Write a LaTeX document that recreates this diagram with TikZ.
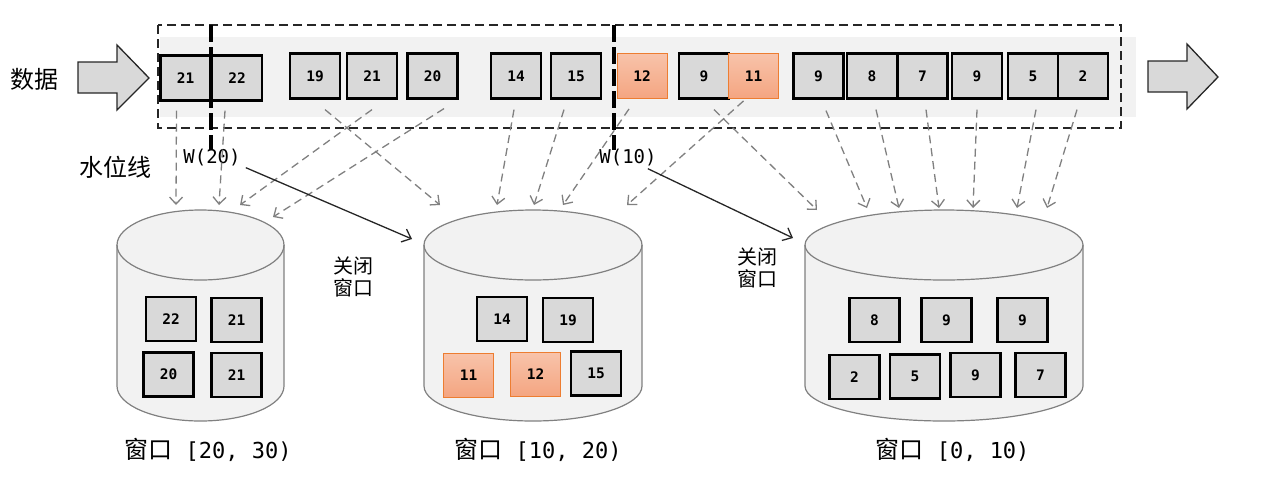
\documentclass[tikz,border=0pt]{standalone}
\usepackage{fontspec}
\usetikzlibrary{arrows.meta,calc}
\newfontfamily\monof{DejaVu Sans Mono}
\newfontfamily\cjkf{Noto Sans CJK SC}
\definecolor{boxgray}{HTML}{D9D9D9}
\definecolor{bandgray}{HTML}{F2F2F2}
\definecolor{cylfill}{HTML}{F2F2F2}
\definecolor{cyldraw}{HTML}{808080}
\definecolor{otop}{HTML}{F8C3AA}
\definecolor{obot}{HTML}{F4A581}
\definecolor{oedge}{HTML}{ED7D31}
\definecolor{agray}{HTML}{808080}
\definecolor{dark}{HTML}{262626}
\tikzset{
  numbox/.style={draw=black, line width=2.2pt, fill=boxgray, minimum width=50pt, minimum height=45pt, inner sep=0pt, font=\fontsize{14.5}{16}\selectfont\monof\bfseries},
  obox/.style={numbox, draw=oedge, line width=0.9pt, top color=otop, bottom color=obot},
  darr/.style={draw=agray, line width=1.3pt, dash pattern=on 8pt off 5pt, -{Straight Barb[length=7pt,width=13pt]}},
  sarr/.style={draw=dark, line width=1.3pt, -{Straight Barb[length=8pt,width=14pt]}},
  cyl/.style={fill=cylfill, draw=cyldraw, line width=1.2pt},
  blockarr/.style={fill=boxgray, draw=dark, line width=1.3pt},
  cjklab/.style={font=\fontsize{24}{26}\selectfont\cjkf, inner sep=0pt},
  closelab/.style={font=\fontsize{20}{22}\selectfont\cjkf, inner sep=0pt, align=left},
  wlab/.style={font=\fontsize{19}{21}\selectfont\monof, inner sep=0pt},
  winlab/.style={font=\fontsize{22}{24}\selectfont, inner sep=0pt},
}
\newcommand{\winlabel}[1]{{\fontsize{24}{26}\selectfont\cjkf 窗口}{\monof\ #1}}
\begin{document}
\begin{tikzpicture}[x=1pt,y=-1pt]
\useasboundingbox (0,0) rectangle (1268,483);
% band
\fill[bandgray] (160,37) rectangle (1136,117);
% block arrows
\draw[blockarr] (78,62) -- (117,62) -- (117,45) -- (149,78) -- (117,110) -- (117,93) -- (78,93) -- cycle;
\draw[blockarr] (1148,61) -- (1187,61) -- (1187,44) -- (1218,77) -- (1187,109) -- (1187,92) -- (1148,92) -- cycle;
% labels left
\node[cjklab] (data) at (34,79) {数据};
\node[cjklab] (wm) at (115,167) {水位线};
% top boxes
\node[numbox] (b21a) at (185.5,78) {21};
\node[numbox] (b22) at (237,78) {22};
\node[numbox] (b19) at (315,76) {19};
\node[numbox] (b21b) at (372,76) {21};
\node[numbox] (b20) at (432.5,76) {20};
\node[numbox] (b14) at (516,76) {14};
\node[numbox] (b15) at (576,76) {15};
\node[obox] (b12) at (642,76) {12};
\node[numbox] (b9a) at (704,76) {9};
\node[obox] (b11) at (753.5,76) {11};
\node[numbox] (b9b) at (818.5,76) {9};
\node[numbox] (b8) at (872,76) {8};
\node[numbox] (b7) at (922.5,76) {7};
\node[numbox] (b9c) at (977,76) {9};
\node[numbox] (b5) at (1033,76) {5};
\node[numbox] (b2) at (1083,76) {2};
% dashed frame and watermark lines
\draw[dark, line width=2pt, dash pattern=on 9pt off 5pt] (158,25) rectangle (1121,128);
\draw[black, line width=3.8pt, dash pattern=on 17pt off 5pt] (211,25) -- (211,150);
\draw[black, line width=3.2pt, dash pattern=on 17pt off 5pt] (614,25) -- (614,150);
\node[wlab] (w20) at (212,158) {W(20)};
\node[wlab] (w10) at (628,158) {W(10)};
% cylinders
\draw[cyl] (117,245) -- (117,386) arc[start angle=180,end angle=360,x radius=83.5pt,y radius=35pt] -- (284,245) arc[start angle=0,end angle=180,x radius=83.5pt,y radius=35pt] -- cycle;
\draw[cyl, fill=none] (117,245) arc[start angle=180,end angle=360,x radius=83.5pt,y radius=35pt];
\draw[cyl] (424,245) -- (424,386) arc[start angle=180,end angle=360,x radius=109pt,y radius=35pt] -- (642,245) arc[start angle=0,end angle=180,x radius=109pt,y radius=35pt] -- cycle;
\draw[cyl, fill=none] (424,245) arc[start angle=180,end angle=360,x radius=109pt,y radius=35pt];
\draw[cyl] (805,245) -- (805,386) arc[start angle=180,end angle=360,x radius=139pt,y radius=35pt] -- (1083,245) arc[start angle=0,end angle=180,x radius=139pt,y radius=35pt] -- cycle;
\draw[cyl, fill=none] (805,245) arc[start angle=180,end angle=360,x radius=139pt,y radius=35pt];
% cylinder boxes
\node[numbox, minimum height=44pt] (c22) at (171,319) {22};
\node[numbox, minimum height=44pt] (c21a) at (236.5,320) {21};
\node[numbox, minimum height=44pt] (c20) at (168.5,374.5) {20};
\node[numbox, minimum height=44pt] (c21b) at (236.5,375) {21};
\node[numbox, minimum height=44pt] (c14) at (502,319) {14};
\node[numbox, minimum height=44pt] (c19) at (568,320) {19};
\node[obox, minimum height=44pt] (c11) at (468.5,375) {11};
\node[obox, minimum height=44pt] (c12) at (535.5,374.5) {12};
\node[numbox, minimum height=44pt] (c15) at (596,373.5) {15};
\node[numbox, minimum height=44pt] (c8) at (874.5,320) {8};
\node[numbox, minimum height=44pt] (c9a) at (946.5,320) {9};
\node[numbox, minimum height=44pt] (c9b) at (1022.5,320) {9};
\node[numbox, minimum height=44pt] (c2) at (854.5,377) {2};
\node[numbox, minimum height=44pt] (c5) at (915,376.5) {5};
\node[numbox, minimum height=44pt] (c9c) at (975.5,375) {9};
\node[numbox, minimum height=44pt] (c7) at (1040.5,375) {7};
% window labels
\node[winlab] (win1) at (208,450) {\winlabel{[20, 30)}};
\node[winlab] (win2) at (538,450) {\winlabel{[10, 20)}};
\node[winlab] (win3) at (952.5,450) {\winlabel{[0, 10)}};
\node[closelab] (close1) at (353,277) {关闭\\窗口};
\node[closelab] (close2) at (757,268) {关闭\\窗口};
% arrow end coordinates
\coordinate (e1) at (176,205);
\coordinate (e2) at (219,205);
\coordinate (e3) at (240,205);
\coordinate (e4) at (273,217);
\coordinate (e5) at (440,205);
\coordinate (e6) at (497,205);
\coordinate (e7) at (534,205);
\coordinate (e8) at (563,205);
\coordinate (e9) at (627,205);
\coordinate (e10) at (817,210);
\coordinate (e11) at (867,208);
\coordinate (e12) at (899,208);
\coordinate (e13) at (939,208);
\coordinate (e14) at (973,208);
\coordinate (e15) at (1017,208);
\coordinate (e16) at (1047,208);
\coordinate (s1) at (412,239);
\coordinate (s2) at (793,238);
% dashed arrows
\draw[darr] ($(b21a.south)+(-9,9)$) -- (e1);
\draw[darr] ($(b22.south)+(-12,9)$) -- (e2);
\draw[darr] ($(b21b.south)+(0,10)$) -- (e3);
\draw[darr] ($(b20.south)+(11.5,9)$) -- (e4);
\draw[darr] ($(b19.south)+(10,10)$) -- (e5);
\draw[darr] ($(b14.south)+(-2,10)$) -- (e6);
\draw[darr] ($(b15.south)+(-12,10)$) -- (e7);
\draw[darr] ($(b12.south)+(-13,10)$) -- (e8);
\draw[darr] ($(b11.south)+(-10,2)$) -- (e9);
\draw[darr] ($(b9a.south)+(10,10)$) -- (e10);
\draw[darr] ($(b9b.south)+(7.5,11)$) -- (e11);
\draw[darr] ($(b8.south)+(4,10)$) -- (e12);
\draw[darr] ($(b7.south)+(3.5,10)$) -- (e13);
\draw[darr] ($(b9c.south)+(0,10)$) -- (e14);
\draw[darr] ($(b5.south)+(3,10)$) -- (e15);
\draw[darr] ($(b2.south)+(-6,10)$) -- (e16);
% solid arrows
\draw[sarr] ($(w20.south east)+(5,1)$) -- (s1);
\draw[sarr] ($(w10.south east)+(-9,2)$) -- (s2);
\end{tikzpicture}
\end{document}
